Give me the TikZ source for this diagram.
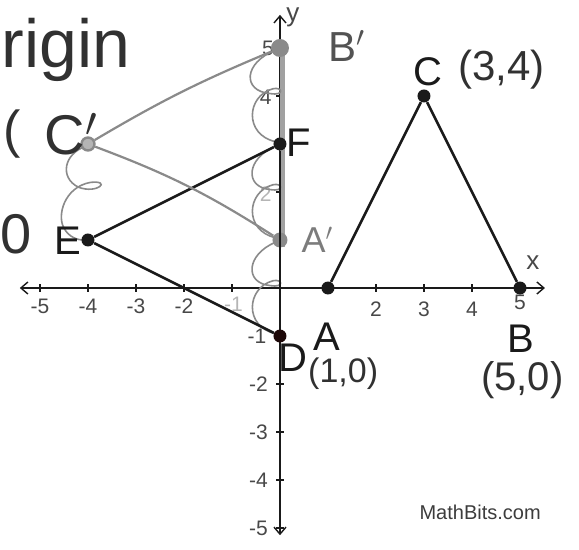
\documentclass[tikz,border=0pt]{standalone}
\usepackage{fontspec}
\setmainfont{Liberation Sans}
\usetikzlibrary{arrows.meta}
\definecolor{ink}{HTML}{1A1A1A}
\definecolor{pencil}{HTML}{8A8A8A}
\definecolor{faint}{HTML}{B5B5B5}
\tikzset{
  dot/.style={circle,fill=ink,inner sep=0pt,minimum size=6.5pt},
  gdot/.style={circle,fill=pencil,inner sep=0pt,minimum size=7.5pt},
  ring/.style={circle,draw=pencil,fill=faint,line width=1.2pt,inner sep=0pt,minimum size=6.5pt},
  seg/.style={ink,line width=1.3pt},
  gseg/.style={pencil,line width=1.1pt},
  loopy/.style={pencil,line width=0.8pt},
  axis/.style={ink,line width=0.7pt,{Straight Barb[length=3.5pt,width=6pt]}-{Straight Barb[length=3.5pt,width=6pt]}},
  tl/.style={font=\fontsize{10.5}{12}\selectfont,text=ink!80,inner sep=0pt},
  lbl/.style={font=\fontsize{20}{22}\selectfont,text=ink,inner sep=0pt},
  hand/.style={font=\fontsize{21}{24}\selectfont,text=ink!90,inner sep=0pt},
}
\begin{document}
\begin{tikzpicture}[x=24pt,y=24pt]
\useasboundingbox (-5.833,-5.458) rectangle (6.229,6.0);
% axes
\draw[axis] (-5.42,0) -- (5.52,0);
\draw[axis] (0,-5.15) -- (0,5.69);
\foreach \i in {-5,...,-1,1,2,...,5} {
  \draw[ink,line width=0.6pt] (\i,0.08) -- (\i,-0.08);
  \draw[ink,line width=0.6pt] (-0.08,\i) -- (0.08,\i);
}
% tick labels
\foreach \i in {-5,-4,-3,-2} \node[tl] at (\i,-0.38) {\i};
\node[tl,text=faint] at (-0.97,-0.33) {-1};
\foreach \i in {2,3,4} \node[tl] at (\i,-0.45) {\i};
\node[tl] at (5,-0.3) {5};
\node[tl] at (-0.25,5.0) {5};
\node[tl] at (-0.3,3.98) {4};
\node[tl,text=faint] at (-0.3,1.95) {2};
\node[tl] at (-0.48,-1.0) {-1};
\foreach \i in {-2,-3,-4,-5} \node[tl] at (-0.45,\i) {\i};
\node[tl,font=\fontsize{13}{14}\selectfont] at (0.27,5.63) {y};
\node[tl,font=\fontsize{13}{14}\selectfont] at (5.27,0.52) {x};
% gray pencil marks along the y-axis
\draw[pencil!80,line width=2.6pt] (0.05,5.0) -- (0.05,0.85);
\draw[loopy] (-0.1,4.95) .. controls (-0.75,4.7) and (-0.8,4.1) .. (-0.2,4.05)
  .. controls (0.1,4.0) and (0.05,4.2) .. (-0.15,4.15)
  .. controls (-0.7,4.0) and (-0.75,3.2) .. (-0.1,3.05);
\draw[loopy] (-0.1,2.95) .. controls (-0.7,2.7) and (-0.75,2.1) .. (-0.2,2.05)
  .. controls (0.1,2.0) and (0.05,2.2) .. (-0.15,2.15)
  .. controls (-0.7,2.0) and (-0.75,1.2) .. (-0.1,1.05);
\draw[loopy] (-0.1,0.95) .. controls (-0.7,0.7) and (-0.75,0.1) .. (-0.2,0.05)
  .. controls (0.1,0.0) and (0.05,0.2) .. (-0.15,0.15)
  .. controls (-0.7,0.0) and (-0.75,-0.8) .. (-0.1,-0.95);
% loops from C' down to E
\draw[loopy] (-4.05,2.95) .. controls (-4.5,2.8) and (-4.6,2.3) .. (-4.2,2.1)
  .. controls (-3.8,1.95) and (-3.5,2.25) .. (-3.95,2.2)
  .. controls (-4.5,2.1) and (-4.65,1.5) .. (-4.5,1.25)
  .. controls (-4.4,1.05) and (-4.2,1.0) .. (-4.1,1.0);
% points
\node[dot] (A) at (1,0) {};
\node[dot] (B) at (5,0) {};
\node[dot] (C) at (3,4) {};
\node[dot,fill=ink!80!red!40!black] (D) at (0,-1) {};
\node[dot] (E) at (-4,1) {};
\node[dot] (F) at (0,3) {};
\node[gdot] (Ap) at (0,1) {};
\node[gdot,minimum size=9pt] (Bp) at (0,5) {};
\node[ring] (Cp) at (-4,3) {};
% triangles
\draw[seg] (A) -- (B);
\draw[seg] (B) -- (C);
\draw[seg] (C) -- (A);
\draw[seg] (D) -- (E);
\draw[seg] (E) -- (F);
\draw[seg] (F) -- (D);
\draw[gseg] (Cp) to[bend left=4] (Bp);
\draw[gseg] (Cp) to[bend left=6] (Ap);
% printed labels
\node[lbl] at (3.08,4.5) {C};
\node[lbl] at (0.4,3.02) {F};
\node[lbl] at (0.98,-1.02) {A};
\node[lbl] at (0.27,-1.45) {D};
\node[lbl] at (5.02,-1.06) {B};
\node[lbl] at (-4.42,0.98) {E};
% handwritten labels
\node[hand] at (4.62,4.55) {(3,4)};
\node[hand,text=ink!75] at (1.4,5.05) {B$'$};
\node[hand,text=pencil!90!black,font=\fontsize{18}{20}\selectfont] at (0.78,1.0) {A$'$};
\node[hand,font=\fontsize{17}{19}\selectfont,anchor=west] at (0.58,-1.78) {(1,0)};
\node[hand,font=\fontsize{20}{22}\selectfont] at (5.05,-1.92) {(5,0)};
\node[hand,font=\fontsize{28}{30}\selectfont] at (-4.35,3.2) {C$'$};
\node[hand,font=\fontsize{26}{28}\selectfont] at (-5.58,3.2) {(};
\node[hand,font=\fontsize{28}{30}\selectfont] at (-5.5,1.12) {0};
\node[hand,font=\fontsize{34}{36}\selectfont,anchor=west] at (-5.80,4.95) {rigin};
\node[font=\fontsize{10}{12}\selectfont,text=ink!85,inner sep=0pt] at (4.17,-4.67) {MathBits.com};
\end{tikzpicture}
\end{document}
